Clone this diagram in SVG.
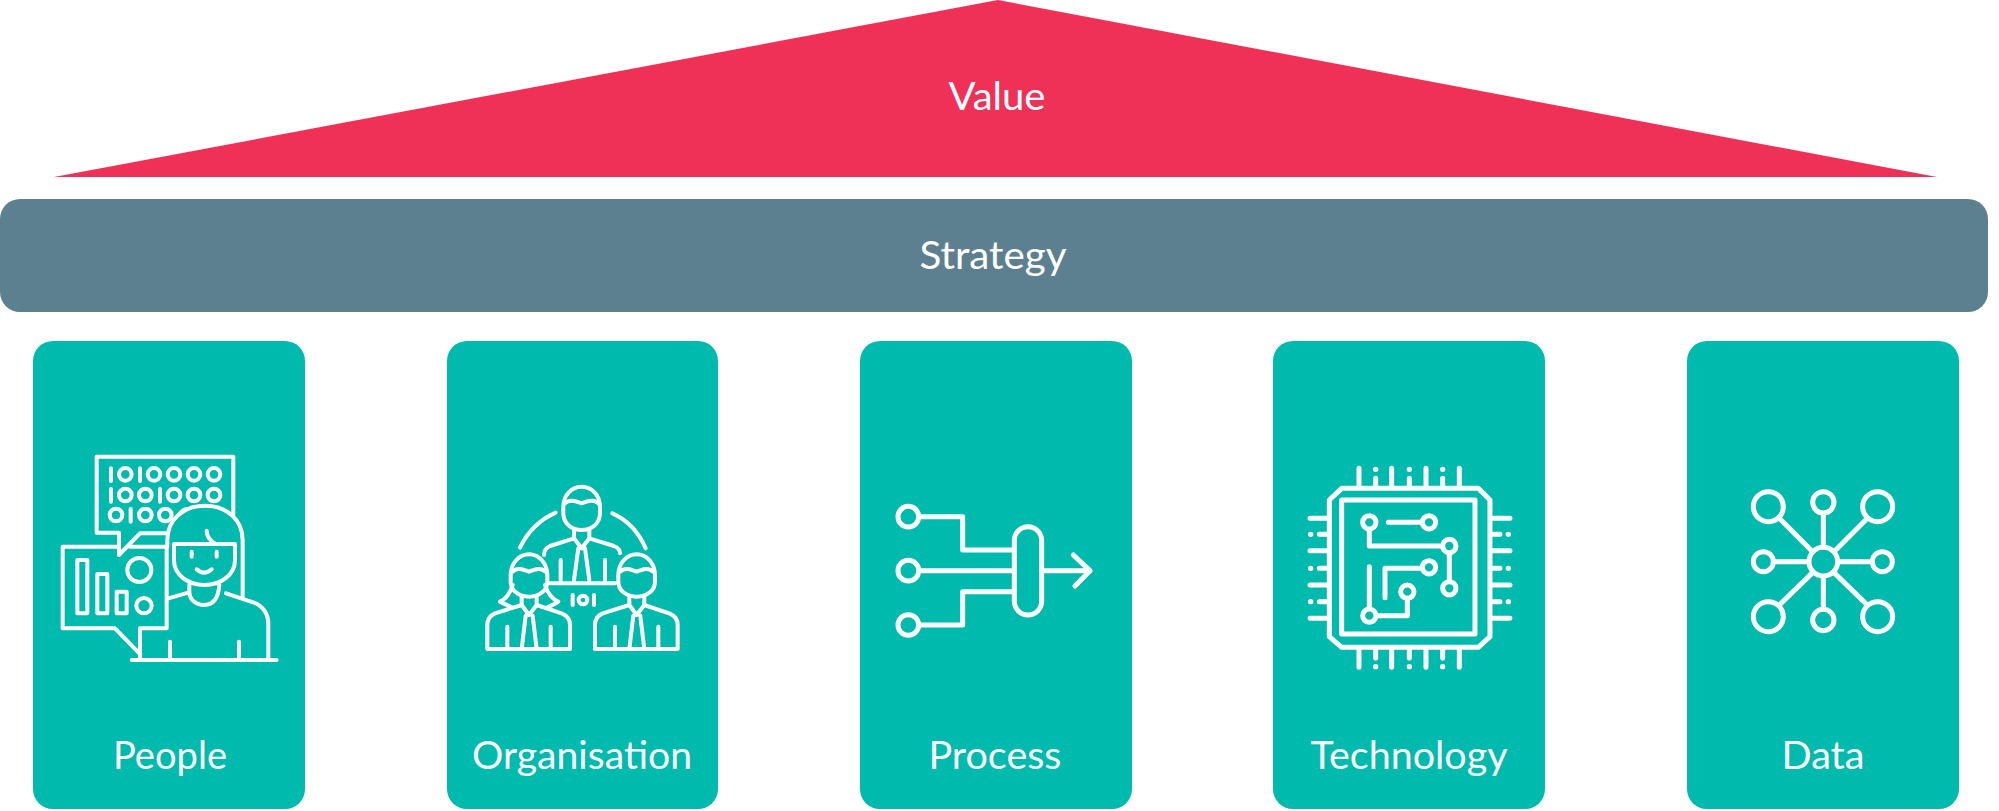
<svg xmlns="http://www.w3.org/2000/svg" xmlns:xlink="http://www.w3.org/1999/xlink" width="1999" height="811" viewBox="0 0 1999 811">
<style>
.card{fill:#00BAAE}
.lbl{font-family:"Lato","Noto Sans",sans-serif;font-size:38px;fill:#fff;text-anchor:middle}
.i{fill:none;stroke:#fff;stroke-linecap:round;stroke-linejoin:round}
.t{stroke-width:12}
.k{stroke-width:15}
.d{fill:#fff;stroke:none}
</style>
<defs>
<g id="person">
<path d="M122,315 C122,280 147,253 177,253 C207,253 232,280 232,315 V335 C232,362 207,380 177,380 C147,380 122,362 122,335 Z"/>
<path d="M128,305 C143,290 162,300 177,305 C192,300 211,290 226,305"/>
<path d="M155,380 V405 L75,430 Q52,440 52,465 V537 H300 V465 Q300,440 275,430 L200,405 V380"/>
<path d="M155,405 L177,435 L200,405 M167,437 L155,537 M188,437 L200,537 M112,470 V537 M242,470 V537"/>
</g>
</defs>
<g id="value">
<polygon points="998,0 1937,177 54,177" fill="#F03157"/>
<text class="lbl" x="997" y="110" textLength="97" lengthAdjust="spacingAndGlyphs">Value</text>
</g>
<g id="strategy">
<rect x="0" y="199" width="1988" height="113" rx="20" fill="#5D8090"/>
<text class="lbl" x="993" y="269" textLength="147" lengthAdjust="spacingAndGlyphs">Strategy</text>
</g>
<g id="people">
<rect class="card" x="33" y="341" width="272" height="468" rx="20"/>
<g class="i t" transform="translate(50,440) scale(.3333)">
<path d="M350,280 H270 L207,345 V278 H140 V50 H550 V225"/>
<path d="M205,320 H38 V565 H195 L268,640 M240,320 H350 V565 H270 V655"/>
<rect x="82" y="360" width="30" height="160"/><rect x="142" y="402" width="30" height="118"/><rect x="200" y="455" width="30" height="65"/>
<circle cx="268" cy="390" r="36"/><circle cx="282" cy="497" r="23"/>
<path d="M183,85 V123 M270,85 V123 M183,147 V185 M330,147 V185 M242,207 V245"/>
<circle cx="226" cy="103" r="19"/><circle cx="312" cy="103" r="19"/><circle cx="372" cy="103" r="19"/><circle cx="432" cy="103" r="19"/><circle cx="492" cy="103" r="19"/>
<circle cx="226" cy="165" r="19"/><circle cx="286" cy="165" r="19"/><circle cx="372" cy="165" r="19"/><circle cx="432" cy="165" r="19"/><circle cx="492" cy="165" r="19"/>
<circle cx="198" cy="225" r="19"/><circle cx="286" cy="225" r="19"/><circle cx="346" cy="225" r="19"/>
<path d="M388,222 Q395,212 410,207"/>
<path d="M352,320 V300 C352,240 400,197 465,197 C530,197 578,240 578,300 V475"/>
<path d="M372,312 H555 V360 C555,405 512,435 463,435 C415,435 372,405 372,360 Z"/>
<path d="M470,272 C470,295 485,305 497,312 M425,335 V350 M500,335 V350 M440,388 Q462,408 485,388"/>
<path d="M418,435 V455 C418,480 440,495 463,495 C488,495 505,480 508,435 M355,475 L415,458"/>
<path d="M528,460 L610,487 C640,497 655,525 655,550 V655 M245,660 H680 M360,605 V655 M567,605 V655"/>
</g>
<text class="lbl" x="170" y="769" textLength="114" lengthAdjust="spacingAndGlyphs">People</text>
</g>
<g id="organisation">
<rect class="card" x="447" y="341" width="271" height="468" rx="20"/>
<g class="i t" transform="translate(470,470) scale(.3333)">
<path d="M280,110 C280,75 305,50 335,50 C365,50 390,75 390,110 V130 C390,160 365,180 335,180 C305,180 280,160 280,130 Z"/>
<path d="M285,100 C300,85 320,95 335,100 C350,95 370,85 385,100"/>
<path d="M312,180 V205 L240,228 Q222,235 222,255 M358,180 V205 L432,228 Q450,235 450,250"/>
<path d="M312,205 L335,235 L358,205 M325,235 L312,330 M345,235 L358,330 M272,270 V330 M405,270 V330 M240,340 H435"/>
<path d="M150,233 Q185,160 257,128 M427,130 Q495,160 527,235"/>
<path d="M308,375 V405 M372,375 V405"/><circle cx="339" cy="390" r="13"/>
<use xlink:href="#person" href="#person"/>
<path d="M128,345 Q115,385 90,395 Q110,405 125,412 M225,345 Q238,385 265,395 Q248,405 232,412"/>
<use xlink:href="#person" href="#person" x="323"/>
</g>
<text class="lbl" x="582" y="769" textLength="220" lengthAdjust="spacingAndGlyphs">Organisation</text>
</g>
<g id="process">
<rect class="card" x="860" y="341" width="272" height="468" rx="20"/>
<g class="i k" transform="translate(880,490) scale(.3333)">
<circle cx="85" cy="80" r="31"/><circle cx="85" cy="242" r="31"/><circle cx="85" cy="405" r="31"/>
<path d="M120,80 H248 V180 H400 M120,242 H400 M120,405 H248 V305 H400"/>
<rect x="403" y="110" width="82" height="265" rx="41"/>
<path d="M485,242 H630 M580,195 L630,242 L585,288"/>
</g>
<text class="lbl" x="995" y="769" textLength="133" lengthAdjust="spacingAndGlyphs">Process</text>
</g>
<g id="technology">
<rect class="card" x="1273" y="341" width="272" height="468" rx="20"/>
<g class="i k" transform="translate(1290,450) scale(.3333)">
<path d="M155,115 H565 L600,150 V560 L565,592 H155 L118,560 V150 Z"/>
<rect x="155" y="150" width="400" height="402"/>
<path d="M207,55 V110 M305,55 V110 M408,55 V110 M508,55 V110 M257,85 V110 M358,85 V110 M458,85 V110"/>
<path d="M207,598 V652 M305,598 V652 M408,598 V652 M508,598 V652 M257,598 V625 M358,598 V625 M458,598 V625"/>
<path d="M60,205 H112 M60,302 H112 M60,405 H112 M60,505 H112 M88,253 H112 M88,355 H112 M88,455 H112"/>
<path d="M605,205 H660 M605,302 H660 M605,405 H660 M605,505 H660 M605,253 H630 M605,355 H630 M605,455 H630"/>
<circle class="d" cx="257" cy="58" r="8"/><circle class="d" cx="358" cy="58" r="8"/><circle class="d" cx="458" cy="58" r="8"/>
<circle class="d" cx="257" cy="650" r="8"/><circle class="d" cx="358" cy="650" r="8"/><circle class="d" cx="458" cy="650" r="8"/>
<circle class="d" cx="62" cy="253" r="8"/><circle class="d" cx="62" cy="355" r="8"/><circle class="d" cx="62" cy="455" r="8"/>
<circle class="d" cx="655" cy="253" r="8"/><circle class="d" cx="655" cy="355" r="8"/><circle class="d" cx="655" cy="455" r="8"/>
<circle cx="238" cy="217" r="20"/><circle cx="417" cy="217" r="20"/><circle cx="478" cy="288" r="20"/><circle cx="478" cy="415" r="20"/><circle cx="238" cy="497" r="20"/><circle cx="352" cy="425" r="20"/><circle cx="417" cy="352" r="20"/>
<path d="M295,217 H395 M238,240 V288 H455 M478,310 V392 M238,350 V475 M260,497 H352 V445 M285,443 V355 H395"/>
</g>
<text class="lbl" x="1409" y="769" textLength="197" lengthAdjust="spacingAndGlyphs">Technology</text>
</g>
<g id="data">
<rect class="card" x="1687" y="341" width="272" height="468" rx="20"/>
<g class="i k" transform="translate(1730,480) scale(.3333)">
<circle cx="280" cy="245" r="43"/>
<circle cx="115" cy="80" r="45"/><circle cx="443" cy="80" r="45"/><circle cx="115" cy="410" r="45"/><circle cx="443" cy="410" r="45"/>
<circle cx="280" cy="67" r="32"/><circle cx="100" cy="245" r="30"/><circle cx="457" cy="245" r="30"/><circle cx="280" cy="420" r="32"/>
<path d="M280,100 V200 M280,290 V385 M135,245 H235 M325,245 H420 M148,115 L248,215 M412,115 L312,215 M148,375 L248,278 M412,375 L312,278"/>
</g>
<text class="lbl" x="1823" y="769" textLength="83" lengthAdjust="spacingAndGlyphs">Data</text>
</g>
</svg>
